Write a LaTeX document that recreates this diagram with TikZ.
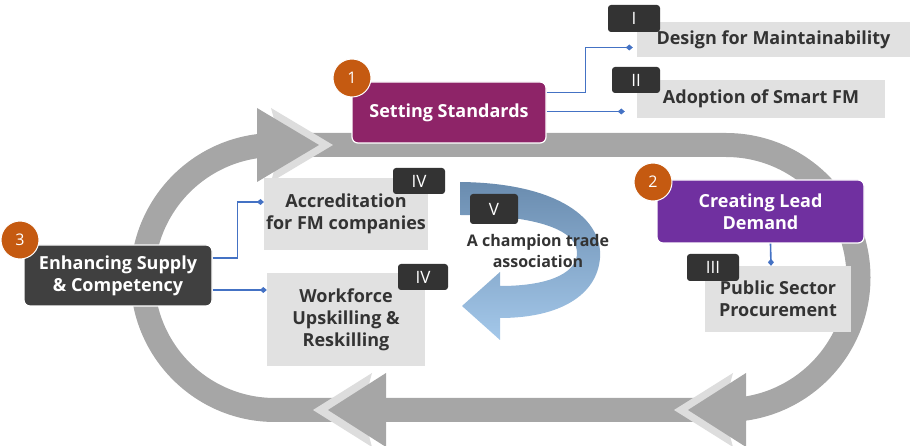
\documentclass[tikz,border=0pt]{standalone}
\usepackage{fontspec}
\setmainfont{Open Sans}
\usetikzlibrary{arrows.meta}
\definecolor{band}{HTML}{A6A6A6}
\definecolor{lband}{HTML}{DDDDDD}
\definecolor{pbox}{HTML}{E1E1E1}
\definecolor{lab}{HTML}{333333}
\definecolor{mag}{HTML}{8E2468}
\definecolor{pur}{HTML}{7030A0}
\definecolor{dgr}{HTML}{404040}
\definecolor{org}{HTML}{C55A11}
\definecolor{conn}{HTML}{4472C4}
\definecolor{btop}{HTML}{6A8CAF}
\definecolor{bbot}{HTML}{A4C8EA}
\begin{document}
\begin{tikzpicture}[x=1pt,y=-1pt,
  main/.style={rounded corners=6pt,draw=white,line width=1.2pt,text=white,font=\fontsize{18}{22}\selectfont\bfseries,align=center,inner sep=2pt},
  sub/.style={fill=pbox,text=lab,font=\fontsize{18}{22}\selectfont\bfseries,align=center,inner sep=2pt},
  tag/.style={fill=lab,rounded corners=3pt,text=white,font=\fontsize{17}{20}\selectfont,inner sep=0pt},
  num/.style={circle,fill=org,draw=white,line width=1pt,text=white,font=\fontsize{16}{18}\selectfont,minimum size=38pt,inner sep=0pt},
  cn/.style={draw=conn,line width=1.6pt,-{Diamond[length=7pt,width=6pt]}}]
\useasboundingbox (0,0) rectangle (919,446);
% loop
\draw[band,line width=24pt] (275,145) -- (726,145) arc[start angle=-90,end angle=90,radius=132.5] -- (275,410) arc[start angle=90,end angle=270,radius=132.5];
% arrowheads
\fill[lband] (271,108) -- (333,145) -- (271,182) -- (281,145) -- cycle;
\fill[band] (257,108) -- (319,145) -- (257,182) -- cycle;
\fill[lband] (372,373) -- (313,410) -- (372,447) -- (362,410) -- cycle;
\fill[band] (386,373) -- (328,410) -- (386,447) -- cycle;
\fill[lband] (733,373) -- (674,410) -- (733,447) -- (723,410) -- cycle;
\fill[band] (746,373) -- (688,410) -- (746,447) -- cycle;
% curved arrow
\shade[top color=btop,bottom color=bbot]
  (460,182) .. controls (560,183) and (603,220) .. (600,258)
  .. controls (597,295) and (560,318) .. (500,318)
  -- (500,340) -- (462,306) -- (500,272) -- (500,286)
  .. controls (555,286) and (578,270) .. (577,252)
  .. controls (576,228) and (530,215) .. (460,215) -- cycle;
\node[text=lab,font=\fontsize{16}{21}\selectfont\bfseries,align=center] (ct) at (538,251) {A champion trade\\association};
% main boxes
\node[main,fill=mag,minimum width=194pt,minimum height=61pt] (ss) at (449,112.5) {Setting Standards};
\node[main,fill=pur,minimum width=207pt,minimum height=63pt] (cl) at (760.5,211.5) {Creating Lead\\Demand};
\node[main,fill=dgr,minimum width=188pt,minimum height=61pt] (es) at (118,275.5) {Enhancing Supply\\\& Competency};
\node[num] (n1) at (352,78) {1};
\node[num] (n2) at (653,182) {2};
\node[num] (n3) at (20,240) {3};
% sub boxes
\node[sub,minimum width=273pt,minimum height=35pt] (dm) at (773.5,39.5) {Design for Maintainability};
\node[sub,minimum width=248pt,minimum height=38pt] (sf) at (761,99) {Adoption of Smart FM};
\node[sub,minimum width=158pt,minimum height=72pt] (ac) at (346,214) {Accreditation\\for FM companies};
\node[sub,minimum width=158pt,minimum height=93pt] (wf) at (346,319.5) {Workforce\\Upskilling \&\\Reskilling};
\node[sub,minimum width=146pt,minimum height=66pt] (ps) at (778,299) {Public Sector\\Procurement};
% tags
\node[tag,minimum width=52pt,minimum height=27pt] (t1) at (634,18.5) {I};
\node[tag,minimum width=48pt,minimum height=26pt] (t2) at (636,80) {II};
\node[tag,minimum width=52pt,minimum height=26pt] (t4a) at (419,181) {IV};
\node[tag,minimum width=50pt,minimum height=26pt] (t4b) at (423,277) {IV};
\node[tag,minimum width=48pt,minimum height=30pt] (t5) at (494,209) {V};
\node[tag,minimum width=52pt,minimum height=27pt] (t3) at (713,267.5) {III};
% connectors
\draw[cn,shorten >=4pt] ([yshift=20pt]ss.east) -- ++(39,0) |- ([yshift=-8pt]dm.west);
\draw[cn,shorten >=12pt] ([yshift=1pt]ss.east) -- ([yshift=1pt]ss.east -| sf.west);
\draw[cn] ([yshift=17.5pt]es.east) -- ++(25,0) |- ([yshift=12pt]ac.west);
\draw[cn] ([yshift=-14.5pt]es.east) -- ([yshift=-14.5pt]es.east -| wf.west);
\draw[cn] ([xshift=10pt]cl.south) -- ([xshift=-7pt]ps.north);
\end{tikzpicture}
\end{document}
